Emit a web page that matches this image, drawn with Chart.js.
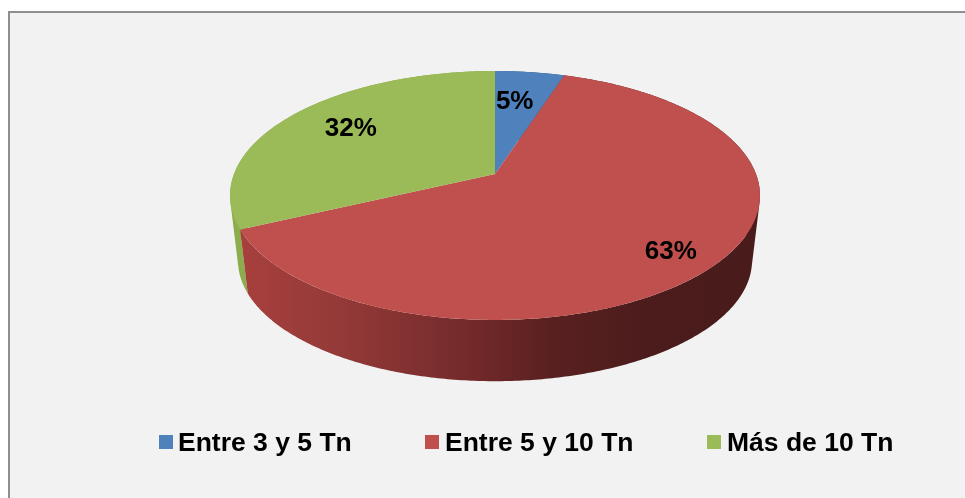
<!DOCTYPE html>
<html>
<head>
<meta charset="utf-8">
<style>
html,body{margin:0;padding:0;background:#fff}
#wrap{width:965px;height:498px}
</style>
<script src="https://cdn.jsdelivr.net/npm/chart.js@4"></script>
</head>
<body>
<div id="wrap"><canvas id="pie"></canvas></div>
<script>
const categories = ["Entre 3 y 5 Tn", "Entre 5 y 10 Tn", "Más de 10 Tn"];
const shares = [5, 63, 32];
const topColors = ["#4f81bd", "#c0504d", "#9bbb59"];
const labelFont = "bold 26px 'Liberation Sans', Arial, sans-serif";
const legendFont = "bold 26.5px 'Liberation Sans', Arial, sans-serif";

// the pie is tilted: stretch the round arc and push the centre up with a perspective divide
const tilt = 0.1727, stretchX = 1.5, stretchY = 0.694, bottomScale = 0.97, depth = 65.6;

function project(el, angle, r, drop, scale) {
    const u = Math.cos(angle) * r, v = Math.sin(angle) * r, d = 1 - tilt * v;
    return {
        x: el.x + el.outerRadius * stretchX * scale * u / d,
        y: el.y + drop + el.outerRadius * stretchY * scale * v / d
    };
}

function rim(ctx, el, from, to) {
    const steps = Math.max(2, Math.ceil(Math.abs(to - from) * 60));
    for (let i = 0; i <= steps; i++) {
        const p = project(el, from + (to - from) * i / steps, 1, 0, 1);
        ctx.lineTo(p.x, p.y);
    }
}

// side wall of one slice: all strips go in one path, same winding, so the fill has no seams
function wall(ctx, el, paint) {
    const steps = Math.ceil((el.endAngle - el.startAngle) * 90);
    ctx.beginPath();
    for (let i = 0; i < steps; i++) {
        const a = el.startAngle + (el.endAngle - el.startAngle) * i / steps;
        const b = el.startAngle + (el.endAngle - el.startAngle) * (i + 1) / steps;
        const q = [project(el, a, 1, 0, 1), project(el, b, 1, 0, 1),
                   project(el, b, 1, depth, bottomScale), project(el, a, 1, depth, bottomScale)];
        let area = 0;
        q.forEach((p, n) => {
            const o = q[(n + 1) % 4];
            area += p.x * o.y - o.x * p.y;
        });
        if (area < 0) q.reverse();
        ctx.moveTo(q[0].x, q[0].y);
        ctx.lineTo(q[1].x, q[1].y);
        ctx.lineTo(q[2].x, q[2].y);
        ctx.lineTo(q[3].x, q[3].y);
        ctx.closePath();
    }
    ctx.fillStyle = paint;
    ctx.fill();
}

function wallGradient(ctx, stops) {
    const g = ctx.createLinearGradient(235, 0, 760, 0);
    stops.forEach(s => g.addColorStop(s[0], s[1]));
    return g;
}

const wallStops = [
    [[0, "#3f6894"], [1, "#2d4a6b"]],
    [[0, "#a8403d"], [0.2, "#943a38"], [0.45, "#73292a"], [0.6, "#5a2020"], [0.78, "#4c1c1c"], [1, "#491b1b"]],
    [[0, "#8bad4c"], [1, "#7c9a44"]]
];

const pie3d = {
    id: "pie3d",
    beforeDraw(chart) {
        const ctx = chart.ctx;
        ctx.save();
        ctx.fillStyle = "#f2f2f2";
        ctx.fillRect(9, 12, 956, 486);
        ctx.fillStyle = "#8f8f8f";
        ctx.fillRect(8, 11, 957, 2);
        ctx.fillRect(8, 11, 2, 487);
        ctx.restore();
    },
    beforeDatasetDraw(chart, args) {
        const ctx = chart.ctx, arcs = args.meta.data;
        ctx.save();
        // walls back to front, then the top surface covers whatever is behind it
        const order = arcs.map((el, i) => i).sort((p, q) =>
            Math.sin((arcs[p].startAngle + arcs[p].endAngle) / 2) - Math.sin((arcs[q].startAngle + arcs[q].endAngle) / 2));
        order.forEach(i => wall(ctx, arcs[i], wallGradient(ctx, wallStops[i])));
        arcs.forEach((el, i) => {
            ctx.beginPath();
            ctx.moveTo(el.x, el.y);
            rim(ctx, el, el.startAngle, el.endAngle);
            ctx.closePath();
            ctx.fillStyle = topColors[i];
            ctx.fill();
        });
        ctx.restore();
        return false;
    },
    afterDatasetsDraw(chart) {
        const ctx = chart.ctx, arcs = chart.getDatasetMeta(0).data;
        const radial = [0.72, 0.8, 0.72], nudgeX = [-6.5, 3.5, 4.5], nudgeY = [11, 15, 6];
        ctx.save();
        ctx.font = labelFont;
        ctx.fillStyle = "#000";
        ctx.textAlign = "center";
        ctx.textBaseline = "alphabetic";
        arcs.forEach((el, i) => {
            const p = project(el, (el.startAngle + el.endAngle) / 2, radial[i], 0, 1);
            ctx.fillText(shares[i] + "%", p.x + nudgeX[i], p.y + nudgeY[i]);
        });
        // legend, spaced as in the picture
        const boxX = [159, 425, 707], textX = [178, 445, 727];
        ctx.font = legendFont;
        ctx.textAlign = "left";
        categories.forEach((name, i) => {
            ctx.fillStyle = topColors[i];
            ctx.fillRect(boxX[i], 435, 14, 14);
            ctx.fillStyle = "#000";
            ctx.fillText(name, textX[i], 451);
        });
        ctx.restore();
    }
};

new Chart(document.getElementById("pie"), {
    type: "pie",
    data: {
        labels: categories,
        datasets: [{ data: shares, backgroundColor: topColors, borderWidth: 0 }]
    },
    options: {
        responsive: true,
        maintainAspectRatio: false,
        animation: false,
        layout: { padding: { left: 25, right: 0, top: 0, bottom: 150 } },
        plugins: {
            legend: { display: false },
            tooltip: { enabled: false }
        }
    },
    plugins: [pie3d]
});
</script>
</body>
</html>
